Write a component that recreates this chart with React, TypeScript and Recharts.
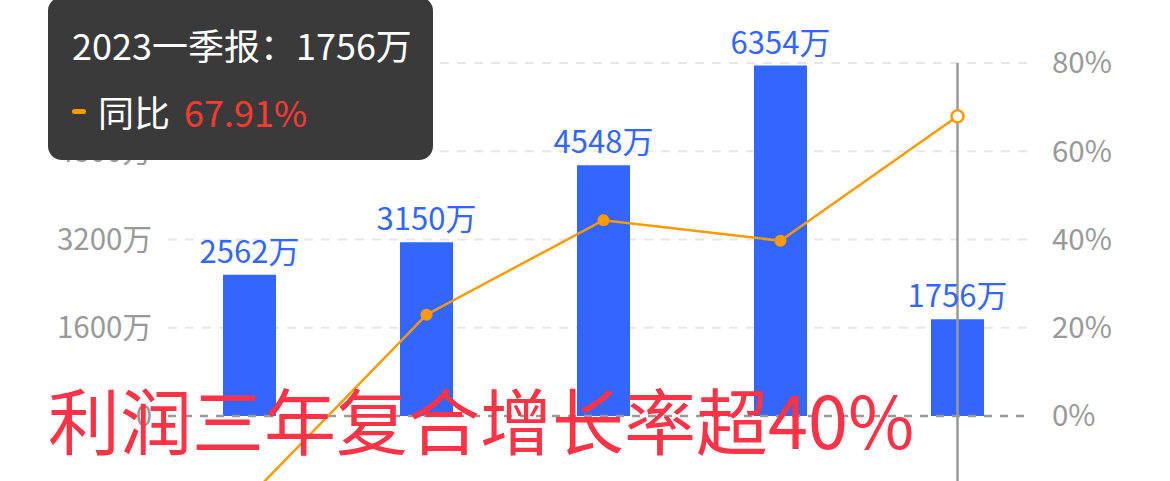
import React from "react";
import {
  Bar,
  CartesianGrid,
  ComposedChart,
  LabelList,
  Line,
  ReferenceLine,
  Tooltip,
  XAxis,
  YAxis,
} from "recharts";

const periods = ["2019年报", "2020年报", "2021年报", "2022年报", "2023一季报"];
const profit = [2562, 3150, 4548, 6354, 1756]; // 万
const yoy = [-18.3, 22.95, 44.38, 39.71, 67.91]; // %
const leftTicks = [0, 1600, 3200, 4800, 6400];
const rightTicks = [0, 20, 40, 60, 80];

const data = periods.map((name, i) => ({ name, profit: profit[i], yoy: yoy[i] }));

const FONT = '"Noto Sans CJK SC", "Noto Sans", sans-serif';
const BLUE = "#3366ff";
const ORANGE = "#ff9900";

function TipBox({ active, payload, label }: any) {
  if (!active || !payload || payload.length === 0) return null;
  const bar = payload.find((p: any) => p.dataKey === "profit");
  const line = payload.find((p: any) => p.dataKey === "yoy");
  return (
    <div
      style={{
        position: "relative",
        width: 385,
        height: 163,
        background: "#3a3a3a",
        borderRadius: 14,
        color: "#fff",
        fontFamily: FONT,
        fontSize: 36,
        lineHeight: "44px",
        whiteSpace: "nowrap",
      }}
    >
      <div style={{ position: "absolute", left: 24, top: 25 }}>
        {label}：{bar ? bar.value : "—"}万
      </div>
      <div style={{ position: "absolute", left: 24, top: 92, display: "flex", alignItems: "center" }}>
        <span
          style={{ display: "inline-block", width: 14, height: 5, borderRadius: 3, background: ORANGE, marginRight: 12 }}
        />
        <span>同比</span>
        <span style={{ color: "#ff3b30", marginLeft: 14 }}>
          {line ? `${Number(line.value).toFixed(2)}%` : "—"}
        </span>
      </div>
    </div>
  );
}

export default function App() {
  return (
    <div style={{ position: "relative", width: 1170, height: 481, fontFamily: FONT, overflow: "hidden" }}>
      <style>{"body{margin:0}"}</style>
      <ComposedChart width={1170} height={481} data={data} margin={{ top: 63, right: 0, bottom: 0, left: 0 }}>
        <CartesianGrid
          yAxisId="left"
          vertical={false}
          horizontalValues={leftTicks.filter((t) => t > 0)}
          stroke="#e6e6e6"
          strokeDasharray="9 8"
          strokeWidth={2}
        />
        <XAxis dataKey="name" hide padding={{ left: -7, right: -15 }} />
        <YAxis
          yAxisId="left"
          domain={[-1178.5, 6400]}
          ticks={leftTicks}
          width={168}
          axisLine={false}
          tickLine={false}
          tickMargin={10}
          allowDataOverflow
          tickFormatter={(v) => (v === 0 ? "0" : `${v}万`)}
          tick={{ fill: "#999", fontSize: 29.5, fontFamily: FONT }}
        />
        <YAxis
          yAxisId="right"
          orientation="right"
          domain={[-14.73, 80]}
          ticks={rightTicks}
          width={139}
          axisLine={false}
          tickLine={false}
          tickMargin={15}
          allowDataOverflow
          tickFormatter={(v) => `${v}%`}
          tick={{ fill: "#999", fontSize: 29.5, fontFamily: FONT, textAnchor: "start" }}
        />
        <ReferenceLine yAxisId="left" y={0} stroke="#999" strokeDasharray="8 8" strokeWidth={2.5} />
        <Bar yAxisId="left" dataKey="profit" fill={BLUE} barSize={53} isAnimationActive={false}>
          <LabelList
            dataKey="profit"
            position="top"
            offset={12}
            formatter={(v: any) => `${v}万`}
            fill={BLUE}
            fontSize={31}
            fontFamily={FONT}
          />
        </Bar>
        <Line
          yAxisId="right"
          type="linear"
          dataKey="yoy"
          stroke={ORANGE}
          strokeWidth={2.5}
          dot={{ r: 6, fill: ORANGE, stroke: "none" }}
          activeDot={{ r: 6, fill: "#fff", stroke: ORANGE, strokeWidth: 2.5 }}
          isAnimationActive={false}
        />
        <Tooltip
          defaultIndex={4}
          content={<TipBox />}
          position={{ x: 48, y: -3 }}
          allowEscapeViewBox={{ x: true, y: true }}
          cursor={{ stroke: "#999", strokeWidth: 2.5 }}
          isAnimationActive={false}
          wrapperStyle={{ outline: "none" }}
        />
      </ComposedChart>
      <div
        style={{
          position: "absolute",
          left: 48,
          top: 382,
          fontSize: 72,
          lineHeight: "72px",
          color: "#fb3347",
          whiteSpace: "nowrap",
          pointerEvents: "none",
        }}
      >
        利润三年复合增长率超40%
      </div>
    </div>
  );
}
